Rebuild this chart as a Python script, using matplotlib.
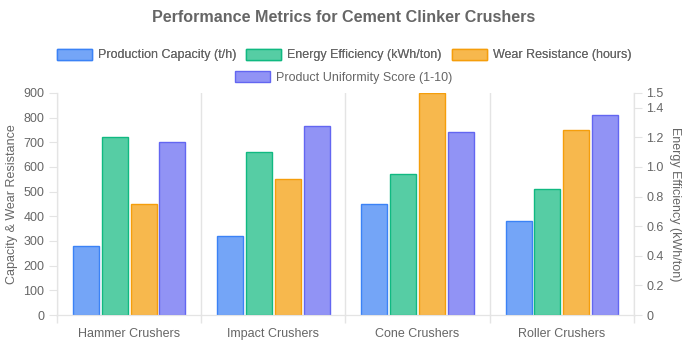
import matplotlib.pyplot as plt
import numpy as np

plt.rcParams['font.family'] = ['Liberation Sans', 'DejaVu Sans']

## data
categories = ['Hammer Crushers', 'Impact Crushers', 'Cone Crushers', 'Roller Crushers']
capacity = [280, 320, 450, 380]          # t/h (left axis)
energy = [1.2, 1.1, 0.95, 0.85]          # kWh/ton (right axis)
wear = [450, 550, 900, 750]              # hours (left axis)
uniformity = [700, 765, 740, 810]        # bar heights on left axis
series_names = ['Production Capacity (t/h)', 'Energy Efficiency (kWh/ton)',
                'Wear Resistance (hours)', 'Product Uniformity Score (1-10)']

## colors (chart.js style: 0.7 alpha fill, solid border)
edge = ['#3b82f6', '#10b981', '#f59e0b', '#6366f1']
fill = ['#74a5f7', '#56cda4', '#f7b84d', '#9193f5']

grid_c = '#e4e4e4'
text_c = '#666666'

fig = plt.figure(figsize=(6.88, 3.44), dpi=100)
ax = fig.add_axes([0.0828, 0.0843, 0.8387, 0.6454])
ax2 = ax.twinx()

x = np.arange(len(categories))
w = 0.18
offs = [-0.3, -0.1, 0.1, 0.3]

bars = []
bars.append(ax.bar(x + offs[0], capacity, w, color=fill[0], edgecolor=edge[0], linewidth=1))
bars.append(ax2.bar(x + offs[1], energy, w, color=fill[1], edgecolor=edge[1], linewidth=1))
bars.append(ax.bar(x + offs[2], wear, w, color=fill[2], edgecolor=edge[2], linewidth=1))
bars.append(ax.bar(x + offs[3], uniformity, w, color=fill[3], edgecolor=edge[3], linewidth=1))

## axes settings
ax.set_xlim(-0.5, len(categories) - 0.5)
ax.set_ylim(0, 900)
ax.set_yticks(range(0, 901, 100))
ax2.set_ylim(0, 1.5)
ax2.set_yticks([0, 0.2, 0.4, 0.6, 0.8, 1.0, 1.2, 1.4, 1.5])
ax2.set_yticklabels(['0', '0.2', '0.4', '0.6', '0.8', '1.0', '1.2', '1.4', '1.5'])

ax.set_xticks(x)
ax.set_xticklabels(categories)
ax.set_xticks(np.arange(-0.5, len(categories), 1.0), minor=True)
ax.tick_params(axis='x', which='major', length=0, pad=9, labelsize=9, colors=text_c)
ax.tick_params(axis='x', which='minor', length=6, color=grid_c, width=1)
ax.grid(axis='x', which='minor', color=grid_c, linewidth=1)
ax.tick_params(axis='y', length=6, color=grid_c, pad=3, labelsize=9, labelcolor=text_c)
ax2.tick_params(axis='y', length=6, color=grid_c, pad=3, labelsize=9, labelcolor=text_c)

for a in (ax, ax2):
    a.spines['top'].set_visible(False)
    for s in ['left', 'right', 'bottom']:
        a.spines[s].set_color(grid_c)
ax.set_axisbelow(True)

ax.set_ylabel('Capacity & Wear Resistance', fontsize=9, color=text_c, labelpad=4)
ax2.set_ylabel('Energy Efficiency (kWh/ton)', fontsize=9, color=text_c, rotation=270, labelpad=12)

## title and legend
fig.text(0.5, 0.948, 'Performance Metrics for Cement Clinker Crushers',
         ha='center', va='center', fontsize=11.6, fontweight='bold', color=text_c)

leg1 = fig.legend(bars[:3], series_names[:3], loc='center', bbox_to_anchor=(0.5, 0.84),
                  ncol=3, frameon=False, fontsize=9, handlelength=2.8, handleheight=1.0,
                  columnspacing=0.8, handletextpad=0.5, labelcolor=text_c)
leg2 = fig.legend(bars[3:], series_names[3:], loc='center', bbox_to_anchor=(0.5, 0.775),
                  ncol=1, frameon=False, fontsize=9, handlelength=2.8, handleheight=1.0,
                  handletextpad=0.5, labelcolor=text_c)
fig.add_artist(leg1)

plt.savefig('out.png', dpi=100)
